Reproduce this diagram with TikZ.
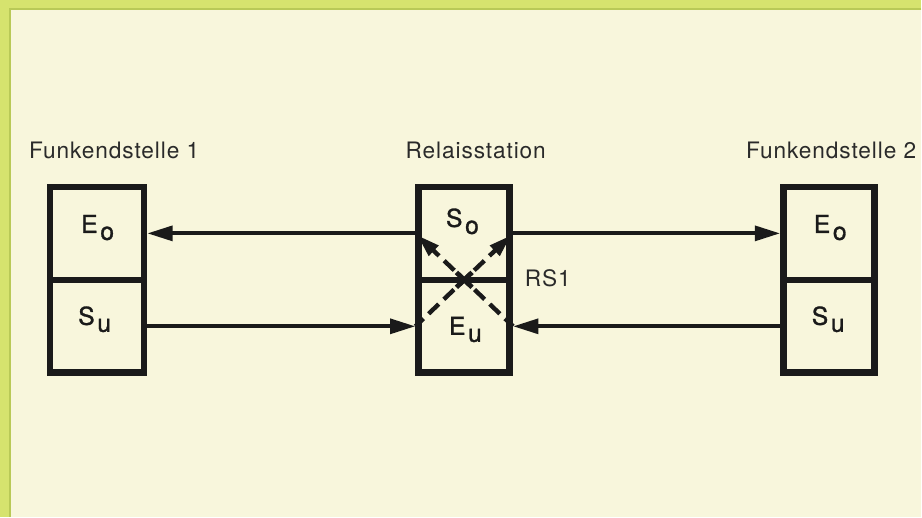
\documentclass[tikz,border=0pt]{standalone}
\usepackage{fontspec}
\setmainfont{TeX Gyre Heros}[LetterSpace=4]
\newfontfamily\symfont{TeX Gyre Heros}[LetterSpace=2,FakeBold=1.2]
\usetikzlibrary{arrows.meta,calc}
\definecolor{bg}{HTML}{F8F6DC}
\definecolor{rim}{HTML}{D6E36E}
\definecolor{rimdark}{HTML}{B9C957}
\definecolor{ink}{HTML}{1A1A1A}
\definecolor{txt}{HTML}{2A2A2A}
\newcommand\lowsub[2]{#1\kern2pt\raisebox{-5.25pt}{#2}}
\begin{document}
\begin{tikzpicture}[x=0.75pt,y=-0.75pt,
  half/.style={draw=ink, line width=5pt, minimum height=69.75pt, inner sep=0pt},
  flow/.style={draw=ink, line width=3pt, -{Triangle[length=19pt,width=11pt]}},
  crossline/.style={draw=ink, line width=3.3pt, dash pattern=on 10.5pt off 5.25pt, dash phase=2.1pt,
    shorten >=2pt, -{Triangle[length=17pt,width=10pt]}},
  lbl/.style={text=txt, inner sep=0pt, font=\fontsize{17}{20}\selectfont},
  sym/.style={text=ink, inner sep=0pt, font=\symfont\fontsize{18.5}{22}\selectfont}]
\fill[bg] (0,0) rectangle (922,517);
\fill[rim] (0,0) rectangle (922,9);
\fill[rim] (0,0) rectangle (10,517);
\draw[rimdark, line width=0.8pt] (922,9) -- (10,9) -- (10,517);
\useasboundingbox (0,0) rectangle (922,517);

% boxes
\node[half, minimum width=70.5pt] (lu) at (97,233.5) {};
\node[half, minimum width=70.5pt] (ld) at (97,326.5) {};
\node[half, minimum width=68.25pt] (mu) at (464.5,233.5) {};
\node[half, minimum width=68.25pt] (md) at (464.5,326.5) {};
\node[half, minimum width=68.25pt] (ru) at (829.5,233.5) {};
\node[half, minimum width=68.25pt] (rd) at (829.5,326.5) {};

% box texts
\node[sym, anchor=base west] (lEo) at (81,233) {\lowsub{E}{o}};
\node[sym, anchor=base west] (lSu) at (78,325) {\lowsub{S}{u}};
\node[sym, anchor=base west] (mSo) at (446,227) {\lowsub{S}{o}};
\node[sym, anchor=base west] (mEu) at (449,335) {\lowsub{E}{u}};
\node[sym, anchor=base west] (rEo) at (814,233) {\lowsub{E}{o}};
\node[sym, anchor=base west] (rSu) at (812,325) {\lowsub{S}{u}};

% connectors
\draw[flow] (mu.west) -- (lu.east);
\draw[flow] (mu.east) -- (ru.west);
\draw[flow] (ld.east) -- (md.west);
\draw[flow] (rd.west) -- (md.east);

% relay cross
\draw[crossline] (md.west) -- (mu.east);
\draw[crossline] (md.east) -- (mu.west);
\draw[ink, line width=3.6pt] ($(md.west)!0.42!(mu.east)$) -- ($(md.west)!0.58!(mu.east)$);
\draw[ink, line width=3.6pt] ($(md.east)!0.42!(mu.west)$) -- ($(md.east)!0.58!(mu.west)$);

% labels
\node[lbl, anchor=base west] (t1) at (29,159) {Funkendstelle 1};
\node[lbl, anchor=base] (t2) at (476,159) {Relaisstation};
\node[lbl, anchor=base east] (t3) at (917,159) {Funkendstelle 2};
\node[lbl, anchor=base west] (rs) at (525,287) {RS1};
\end{tikzpicture}
\end{document}
